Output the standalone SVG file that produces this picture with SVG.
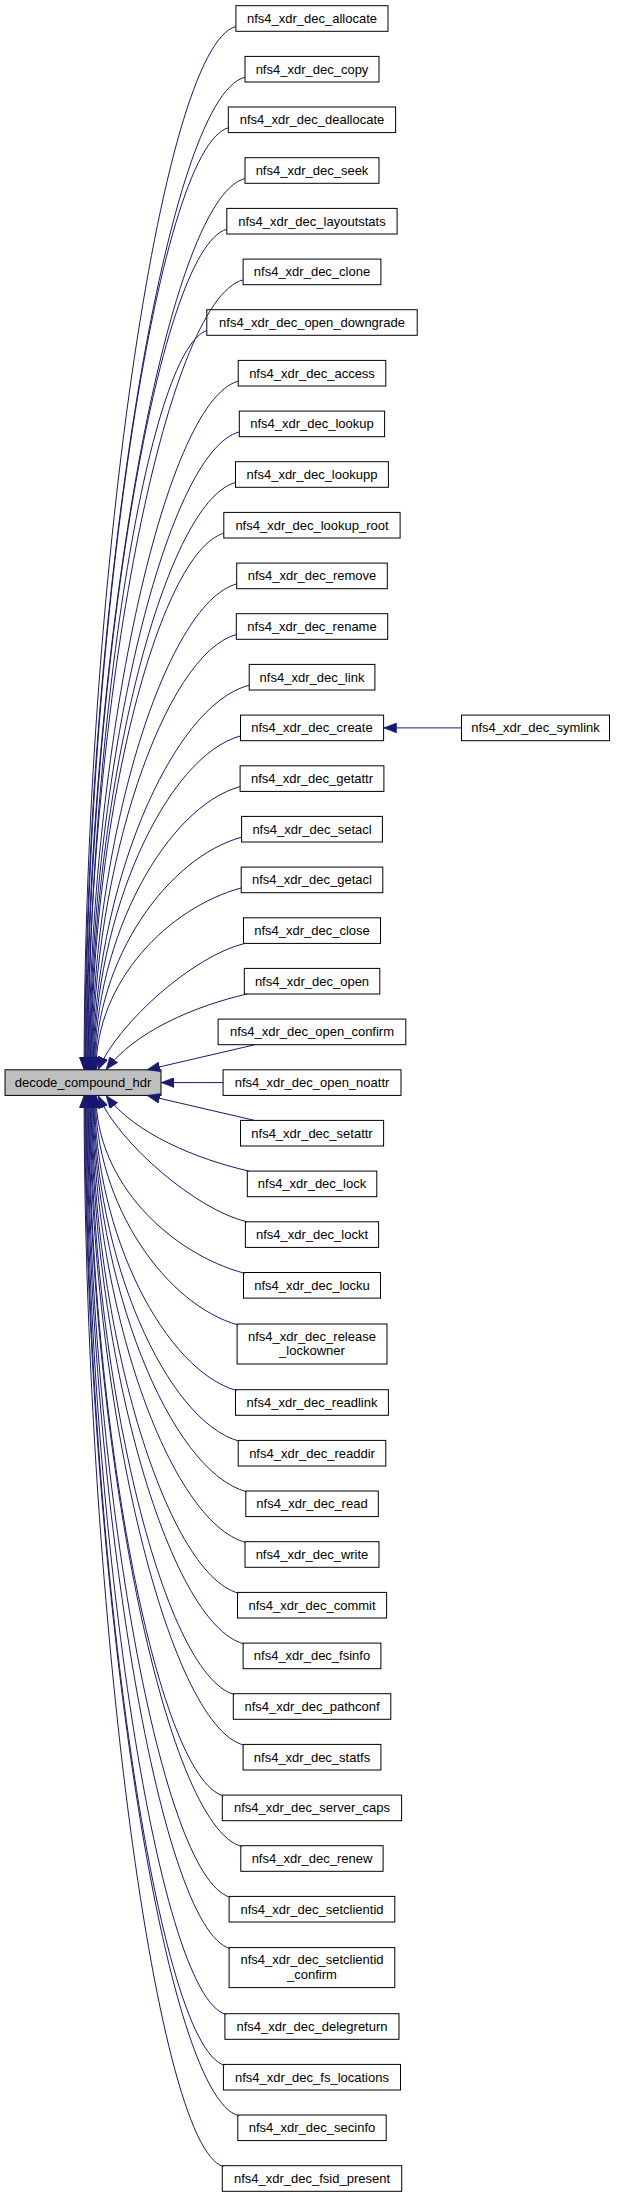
<svg xmlns="http://www.w3.org/2000/svg" width="620" height="2197" viewBox="0 0 620 2197">
<style>
.n rect{fill:#fff;stroke:#000;stroke-width:1}
.m rect{fill:#bfbfbf;stroke:#000;stroke-width:1}
text{font-family:"Liberation Sans",Arial,sans-serif;font-size:13px;text-anchor:middle;fill:#000}
.e path{fill:none;stroke:#191970;stroke-width:1;marker-end:url(#ah)}
</style>
<defs>
<marker id="ah" markerUnits="userSpaceOnUse" markerWidth="13" markerHeight="10" refX="13" refY="5" orient="auto"><path d="M0,0 L13,5 L0,10 z" fill="#191970" stroke="#191970" stroke-width="0.5"/></marker>
</defs>
<rect width="620" height="2197" fill="#fff"/>
<g id="node_main" class="m"><rect x="5" y="1069.8" width="156" height="25.6"/><text x="83" y="1087.1">decode_compound_hdr</text></g>
<g id="node_allocate" class="n"><rect x="235.9" y="5.7" width="152.1" height="25.6"/><text x="312" y="23">nfs4_xdr_dec_allocate</text></g>
<g id="node_copy" class="n"><rect x="245" y="56.4" width="134" height="25.6"/><text x="312" y="73.7">nfs4_xdr_dec_copy</text></g>
<g id="node_deallocate" class="n"><rect x="228.3" y="107" width="167.3" height="25.6"/><text x="312" y="124.3">nfs4_xdr_dec_deallocate</text></g>
<g id="node_seek" class="n"><rect x="245" y="157.7" width="134" height="25.6"/><text x="312" y="175">nfs4_xdr_dec_seek</text></g>
<g id="node_layoutstats" class="n"><rect x="226.8" y="208.4" width="170.3" height="25.6"/><text x="312" y="225.7">nfs4_xdr_dec_layoutstats</text></g>
<g id="node_clone" class="n"><rect x="243.1" y="259.1" width="137.8" height="25.6"/><text x="312" y="276.4">nfs4_xdr_dec_clone</text></g>
<g id="node_open_downgrade" class="n"><rect x="206.8" y="309.7" width="210.4" height="25.6"/><text x="312" y="327">nfs4_xdr_dec_open_downgrade</text></g>
<g id="node_access" class="n"><rect x="238.2" y="360.4" width="147.6" height="25.6"/><text x="312" y="377.7">nfs4_xdr_dec_access</text></g>
<g id="node_lookup" class="n"><rect x="239.3" y="411.1" width="145.3" height="25.6"/><text x="312" y="428.4">nfs4_xdr_dec_lookup</text></g>
<g id="node_lookupp" class="n"><rect x="235.5" y="461.7" width="152.9" height="25.6"/><text x="312" y="479">nfs4_xdr_dec_lookupp</text></g>
<g id="node_lookup_root" class="n"><rect x="223.8" y="512.4" width="176.3" height="25.6"/><text x="312" y="529.7">nfs4_xdr_dec_lookup_root</text></g>
<g id="node_remove" class="n"><rect x="236.7" y="563.1" width="150.6" height="25.6"/><text x="312" y="580.4">nfs4_xdr_dec_remove</text></g>
<g id="node_rename" class="n"><rect x="236.3" y="613.7" width="151.4" height="25.6"/><text x="312" y="631">nfs4_xdr_dec_rename</text></g>
<g id="node_link" class="n"><rect x="249.2" y="664.4" width="125.7" height="25.6"/><text x="312" y="681.7">nfs4_xdr_dec_link</text></g>
<g id="node_create" class="n"><rect x="240.5" y="715.1" width="143.1" height="25.6"/><text x="312" y="732.4">nfs4_xdr_dec_create</text></g>
<g id="node_symlink" class="n"><rect x="461.5" y="715.1" width="148" height="25.6"/><text x="535.5" y="732.4">nfs4_xdr_dec_symlink</text></g>
<g id="node_getattr" class="n"><rect x="240.1" y="765.8" width="143.8" height="25.6"/><text x="312" y="783.1">nfs4_xdr_dec_getattr</text></g>
<g id="node_setacl" class="n"><rect x="241.6" y="816.4" width="140.8" height="25.6"/><text x="312" y="833.7">nfs4_xdr_dec_setacl</text></g>
<g id="node_getacl" class="n"><rect x="241.2" y="867.1" width="141.6" height="25.6"/><text x="312" y="884.4">nfs4_xdr_dec_getacl</text></g>
<g id="node_close" class="n"><rect x="243.5" y="917.8" width="137" height="25.6"/><text x="312" y="935.1">nfs4_xdr_dec_close</text></g>
<g id="node_open" class="n"><rect x="244.3" y="968.4" width="135.5" height="25.6"/><text x="312" y="985.7">nfs4_xdr_dec_open</text></g>
<g id="node_open_confirm" class="n"><rect x="218.1" y="1019.1" width="187.7" height="25.6"/><text x="312" y="1036.4">nfs4_xdr_dec_open_confirm</text></g>
<g id="node_open_noattr" class="n"><rect x="223.1" y="1069.8" width="177.9" height="25.6"/><text x="312" y="1087.1">nfs4_xdr_dec_open_noattr</text></g>
<g id="node_setattr" class="n"><rect x="240.5" y="1120.4" width="143.1" height="25.6"/><text x="312" y="1137.7">nfs4_xdr_dec_setattr</text></g>
<g id="node_lock" class="n"><rect x="247.3" y="1171.1" width="129.5" height="25.6"/><text x="312" y="1188.4">nfs4_xdr_dec_lock</text></g>
<g id="node_lockt" class="n"><rect x="245.4" y="1221.8" width="133.2" height="25.6"/><text x="312" y="1239.1">nfs4_xdr_dec_lockt</text></g>
<g id="node_locku" class="n"><rect x="243.5" y="1272.5" width="137" height="25.6"/><text x="312" y="1289.8">nfs4_xdr_dec_locku</text></g>
<g id="node_release_lockowner" class="n"><rect x="237.1" y="1324" width="149.9" height="40"/><text x="312" y="1340.5">nfs4_xdr_dec_release</text><text x="312" y="1355">_lockowner</text></g>
<g id="node_readlink" class="n"><rect x="235.5" y="1389.7" width="152.9" height="25.6"/><text x="312" y="1407">nfs4_xdr_dec_readlink</text></g>
<g id="node_readdir" class="n"><rect x="238.2" y="1440.4" width="147.6" height="25.6"/><text x="312" y="1457.7">nfs4_xdr_dec_readdir</text></g>
<g id="node_read" class="n"><rect x="245.8" y="1491" width="132.5" height="25.6"/><text x="312" y="1508.3">nfs4_xdr_dec_read</text></g>
<g id="node_write" class="n"><rect x="245" y="1541.7" width="134" height="25.6"/><text x="312" y="1559">nfs4_xdr_dec_write</text></g>
<g id="node_commit" class="n"><rect x="237.5" y="1592.4" width="149.1" height="25.6"/><text x="312" y="1609.7">nfs4_xdr_dec_commit</text></g>
<g id="node_fsinfo" class="n"><rect x="243.1" y="1643.1" width="137.8" height="25.6"/><text x="312" y="1660.4">nfs4_xdr_dec_fsinfo</text></g>
<g id="node_pathconf" class="n"><rect x="233.3" y="1693.7" width="157.5" height="25.6"/><text x="312" y="1711">nfs4_xdr_dec_pathconf</text></g>
<g id="node_statfs" class="n"><rect x="243.1" y="1744.4" width="137.8" height="25.6"/><text x="312" y="1761.7">nfs4_xdr_dec_statfs</text></g>
<g id="node_server_caps" class="n"><rect x="222.3" y="1795.1" width="179.3" height="25.6"/><text x="312" y="1812.4">nfs4_xdr_dec_server_caps</text></g>
<g id="node_renew" class="n"><rect x="240.8" y="1845.7" width="142.3" height="25.6"/><text x="312" y="1863">nfs4_xdr_dec_renew</text></g>
<g id="node_setclientid" class="n"><rect x="229.1" y="1896.4" width="165.7" height="25.6"/><text x="312" y="1913.7">nfs4_xdr_dec_setclientid</text></g>
<g id="node_setclientid_confirm" class="n"><rect x="229.1" y="1947.6" width="165.7" height="40"/><text x="312" y="1964.1">nfs4_xdr_dec_setclientid</text><text x="312" y="1978.6">_confirm</text></g>
<g id="node_delegreturn" class="n"><rect x="224.9" y="2013.7" width="174.1" height="25.6"/><text x="312" y="2031">nfs4_xdr_dec_delegreturn</text></g>
<g id="node_fs_locations" class="n"><rect x="223.4" y="2064.4" width="177.1" height="25.6"/><text x="312" y="2081.7">nfs4_xdr_dec_fs_locations</text></g>
<g id="node_secinfo" class="n"><rect x="237.8" y="2115" width="148.4" height="25.6"/><text x="312" y="2132.3">nfs4_xdr_dec_secinfo</text></g>
<g id="node_fsid_present" class="n"><rect x="222.3" y="2165.7" width="179.4" height="25.6"/><text x="312" y="2183">nfs4_xdr_dec_fsid_present</text></g>
<g id="edges" class="e">
<path d="M235.9,26.5 C160,46.5 84.1,593.3 84.1,1069.8"/>
<path d="M245,77.2 C164.9,97.2 84.8,616.1 84.8,1069.8"/>
<path d="M228.3,127.8 C156.9,147.8 85.5,638.9 85.5,1069.8"/>
<path d="M245,178.5 C165.6,198.5 86.2,661.7 86.2,1069.8"/>
<path d="M226.8,229.2 C156.9,249.2 86.9,684.5 86.9,1069.8"/>
<path d="M243.1,279.9 C165.4,299.9 87.6,707.3 87.6,1069.8"/>
<path d="M206.8,330.5 C147.6,350.5 88.3,730.1 88.3,1069.8"/>
<path d="M238.2,381.2 C163.6,401.2 89,752.9 89,1069.8"/>
<path d="M239.3,431.9 C164.5,451.9 89.7,775.7 89.7,1069.8"/>
<path d="M235.5,482.5 C163,502.5 90.4,798.5 90.4,1069.8"/>
<path d="M223.8,533.2 C157.5,553.2 91.1,821.3 91.1,1069.8"/>
<path d="M236.7,583.9 C164.3,603.9 91.8,844.1 91.8,1069.8"/>
<path d="M236.3,634.5 C164.4,654.5 92.5,866.9 92.5,1069.8"/>
<path d="M249.2,685.2 C171.2,705.2 93.2,889.7 93.2,1069.8"/>
<path d="M240.5,735.9 C167.2,755.9 93.9,912.5 93.9,1069.8"/>
<path d="M461.5,727.9 L383.6,727.9"/>
<path d="M240.1,786.6 C167.4,806.6 94.6,935.3 94.6,1069.8"/>
<path d="M241.6,837.2 C168.5,857.2 95.3,958.1 95.3,1069.8"/>
<path d="M241.2,887.9 C168.6,907.9 96,980.9 96,1069.8"/>
<path d="M245,943.4 C195,955 119.2,1021.2 98,1069.8"/>
<path d="M247,994 C195,1006 134.8,1031.4 106,1069.8"/>
<path d="M255,1044.7 L147,1069.8"/>
<path d="M223.1,1082.6 L161,1082.6"/>
<path d="M255,1120.5 L147,1095.4"/>
<path d="M249,1171.1 C197,1159.2 134.8,1133.8 106,1095.4"/>
<path d="M247,1221.8 C197,1210.2 119.2,1144 98,1095.4"/>
<path d="M244.5,1273.3 C170.3,1253.3 96,1182.5 96,1095.4"/>
<path d="M238.1,1325 C166.7,1305 95.3,1205.8 95.3,1095.4"/>
<path d="M236.5,1390.5 C165.6,1370.5 94.6,1235.2 94.6,1095.4"/>
<path d="M239.2,1441.2 C166.6,1421.2 93.9,1258 93.9,1095.4"/>
<path d="M246.8,1491.8 C170,1471.8 93.2,1280.8 93.2,1095.4"/>
<path d="M246,1542.5 C169.3,1522.5 92.5,1303.6 92.5,1095.4"/>
<path d="M238.5,1593.2 C165.2,1573.2 91.8,1326.4 91.8,1095.4"/>
<path d="M244.1,1643.9 C167.6,1623.9 91.1,1349.3 91.1,1095.4"/>
<path d="M234.3,1694.5 C162.4,1674.5 90.4,1372 90.4,1095.4"/>
<path d="M244.1,1745.2 C166.9,1725.2 89.7,1394.8 89.7,1095.4"/>
<path d="M223.3,1795.9 C156.2,1775.9 89,1417.7 89,1095.4"/>
<path d="M241.8,1846.5 C165.1,1826.5 88.3,1440.4 88.3,1095.4"/>
<path d="M230.1,1897.2 C158.9,1877.2 87.6,1463.2 87.6,1095.4"/>
<path d="M230.1,1948.6 C158.5,1928.6 86.9,1486.4 86.9,1095.4"/>
<path d="M225.9,2014.5 C156.1,1994.5 86.2,1516 86.2,1095.4"/>
<path d="M224.4,2065.2 C155,2045.2 85.5,1538.8 85.5,1095.4"/>
<path d="M238.8,2115.8 C161.8,2095.8 84.8,1561.6 84.8,1095.4"/>
<path d="M223.3,2166.5 C153.7,2146.5 84.1,1584.4 84.1,1095.4"/>
</g>
</svg>
